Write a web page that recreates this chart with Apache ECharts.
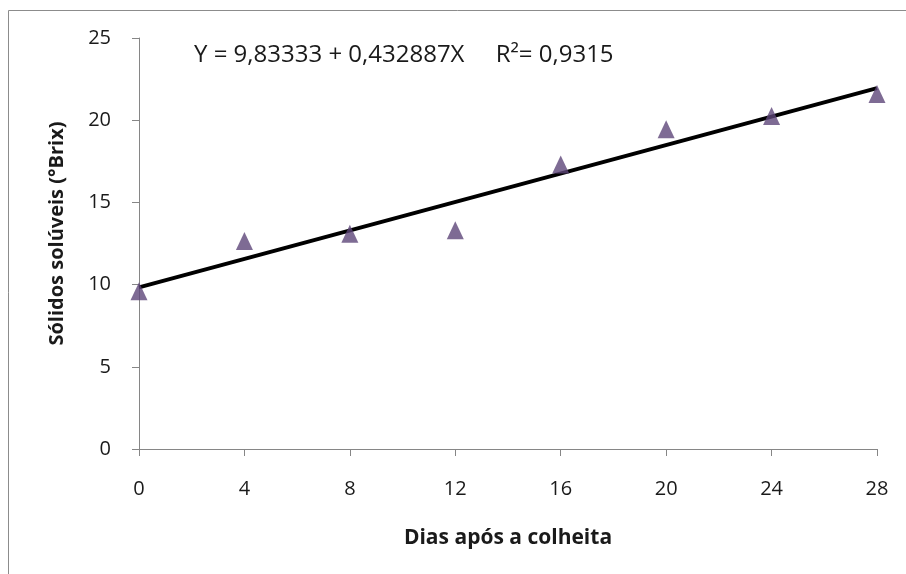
<!DOCTYPE html>
<html>
<head>
<meta charset="utf-8">
<script src="https://cdn.jsdelivr.net/npm/echarts@6/dist/echarts.min.js"></script>
<style>
html,body{margin:0;padding:0;background:#fff;}
#chart{width:906px;height:574px;}
</style>
</head>
<body>
<div id="chart"></div>
<script>
// Data
const days = [0, 4, 8, 12, 16, 20, 24, 28];
const brix = [9.6, 12.65, 13.1, 13.3, 17.3, 19.45, 20.25, 21.6];
const xTicks = [0, 4, 8, 12, 16, 20, 24, 28];
const yTicks = [0, 5, 10, 15, 20, 25];
// Regression reported on the chart
const intercept = 9.83333;
const slope = 0.432887;
const r2 = '0,9315';
const equationText = 'Y = 9,83333 + 0,432887X     R\u00B2= ' + r2;

const scatterData = days.map((d, i) => [d, brix[i]]);
const trendX = [xTicks[0], xTicks[xTicks.length - 1]];
const trendData = trendX.map(x => [x, intercept + slope * x]);

const font = '"Open Sans", Lato, sans-serif';
const chart = echarts.init(document.getElementById('chart'));
chart.setOption({
  animation: false,
  backgroundColor: '#fff',
  grid: { left: 139, right: 29, top: 38, bottom: 125 },
  graphic: [
    { type: 'rect', shape: { x: 8.5, y: 10.5, width: 1000, height: 1000 },
      style: { fill: 'none', stroke: '#8c8c8c', lineWidth: 1 }, silent: true }
  ],
  title: {
    text: equationText, left: 189, top: 38,
    textStyle: { fontFamily: font, fontSize: 24, fontWeight: 'normal', color: '#1a1a1a' }
  },
  xAxis: {
    type: 'value', min: 0, max: 28, interval: 4,
    name: 'Dias após a colheita', nameLocation: 'middle', nameGap: 79,
    nameTextStyle: { fontFamily: font, fontSize: 21, fontWeight: 'bold', color: '#1a1a1a' },
    axisLine: { show: true, onZero: false, lineStyle: { color: '#868686', width: 1 } },
    axisTick: { show: true, inside: false, length: 7, lineStyle: { color: '#868686' } },
    axisLabel: { margin: 30, fontFamily: font, fontSize: 20, color: '#1a1a1a',
      formatter: v => xTicks.includes(v) ? String(v) : '' },
    splitLine: { show: false }
  },
  yAxis: {
    type: 'value', min: 0, max: 25, interval: 5,
    name: 'Sólidos solúveis (°Brix)', nameLocation: 'middle', nameGap: 72,
    nameTextStyle: { fontFamily: font, fontSize: 20, fontWeight: 'bold', color: '#1a1a1a',
      padding: [0, 0, 0, 20] },
    axisLine: { show: true, lineStyle: { color: '#868686', width: 1 } },
    axisTick: { show: true, inside: false, length: 7, lineStyle: { color: '#868686' } },
    axisLabel: { margin: 28, fontFamily: font, fontSize: 20, color: '#1a1a1a',
      formatter: v => yTicks.includes(v) ? String(v) : '' },
    splitLine: { show: false }
  },
  series: [
    {
      type: 'line', data: trendData, showSymbol: false, symbol: 'none',
      lineStyle: { color: '#000', width: 4 }, z: 2
    },
    {
      type: 'scatter', data: scatterData, symbol: 'triangle', symbolSize: [17, 18],
      itemStyle: { color: '#5E4679' }, z: 3
    }
  ]
});
</script>
</body>
</html>
